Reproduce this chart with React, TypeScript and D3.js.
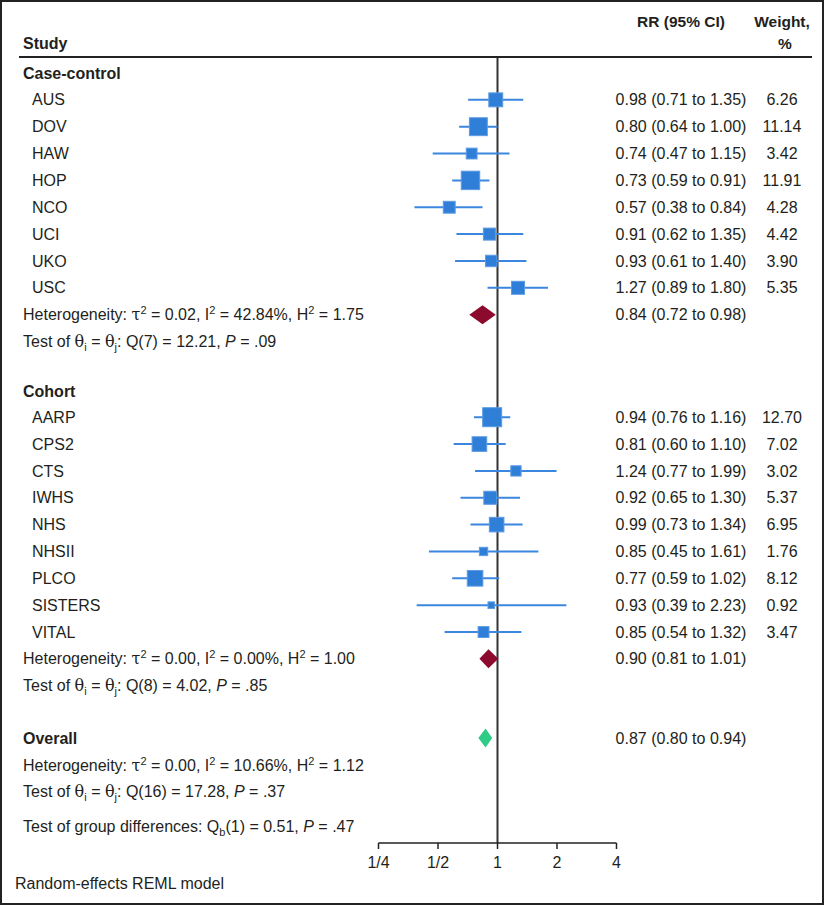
import React from "react";
import * as d3 from "d3";

const caseNames = ["AUS", "DOV", "HAW", "HOP", "NCO", "UCI", "UKO", "USC"];
const caseRR = [0.98, 0.8, 0.74, 0.73, 0.57, 0.91, 0.93, 1.27];
const caseLo = [0.71, 0.64, 0.47, 0.59, 0.38, 0.62, 0.61, 0.89];
const caseHi = [1.35, 1.0, 1.15, 0.91, 0.84, 1.35, 1.4, 1.8];
const caseW = [6.26, 11.14, 3.42, 11.91, 4.28, 4.42, 3.9, 5.35];

const cohortNames = ["AARP", "CPS2", "CTS", "IWHS", "NHS", "NHSII", "PLCO", "SISTERS", "VITAL"];
const cohortRR = [0.94, 0.81, 1.24, 0.92, 0.99, 0.85, 0.77, 0.93, 0.85];
const cohortLo = [0.76, 0.6, 0.77, 0.65, 0.73, 0.45, 0.59, 0.39, 0.54];
const cohortHi = [1.16, 1.1, 1.99, 1.3, 1.34, 1.61, 1.02, 2.23, 1.32];
const cohortW = [12.7, 7.02, 3.02, 5.37, 6.95, 1.76, 8.12, 0.92, 3.47];

// summary: [estimate, low, high]
const caseSummary = [0.84, 0.72, 0.98];
const cohortSummary = [0.9, 0.81, 1.01];
const overallSummary = [0.87, 0.8, 0.94];

const caseHet = ["0.02", "42.84%", "1.75"];
const caseTest = ["7", "12.21", ".09"];
const cohortHet = ["0.00", "0.00%", "1.00"];
const cohortTest = ["8", "4.02", ".85"];
const overallHet = ["0.00", "10.66%", "1.12"];
const overallTest = ["16", "17.28", ".37"];
const groupDiff = ["1", "0.51", ".47"];

const tickValues = [0.25, 0.5, 1, 2, 4];
const tickLabels = ["1/4", "1/2", "1", "2", "4"];

const FONT = "'Liberation Sans', Arial, Helvetica, sans-serif";
const TXT = "#231f20";
const BLUE = "#2f7ed8";
const BLUE_LINE = "#3b86df";
const MAROON = "#8b0a2d";
const GREEN = "#2fcb87";

const fmt = (v: number) => v.toFixed(2);

export default function App() {
  const W = 825;
  const H = 906;
  const x = d3.scaleLog().base(2).domain([0.25, 4]).range([378.5, 616.5]);
  const y = d3.scaleLinear().domain([0, 1]).range([73, 99.85]);
  const sq = d3.scaleSqrt().domain([0, 12.7]).range([2, 19]);

  const caseRows = caseNames.map((n, i) => ({ name: n, rr: caseRR[i], lo: caseLo[i], hi: caseHi[i], w: caseW[i], idx: 1 + i }));
  const cohortRows = cohortNames.map((n, i) => ({ name: n, rr: cohortRR[i], lo: cohortLo[i], hi: cohortHi[i], w: cohortW[i], idx: 12.82 + i }));
  const rows = [...caseRows, ...cohortRows];

  const xCI = 681;
  const xW = 782;
  const xLeft = 23;
  const xName = 32;
  const fs = 16;
  const sub = 11;
  const axisY = 843;

  const het = (vals: string[], idx: number) => (
    <text x={xLeft} y={y(idx)} dy="0.35em" fontSize={fs} fill={TXT}>
      Heterogeneity:{" "}
      <tspan fontFamily="'DejaVu Serif', serif">τ</tspan>
      <tspan dy={-6} fontSize={sub}>2</tspan>
      <tspan dy={6}> = {vals[0]}, I</tspan>
      <tspan dy={-6} fontSize={sub}>2</tspan>
      <tspan dy={6}> = {vals[1]}, H</tspan>
      <tspan dy={-6} fontSize={sub}>2</tspan>
      <tspan dy={6}> = {vals[2]}</tspan>
    </text>
  );
  const test = (vals: string[], idx: number) => (
    <text x={xLeft} y={y(idx)} dy="0.35em" fontSize={fs} fill={TXT}>
      Test of{" "}
      <tspan fontFamily="'DejaVu Serif', serif">θ</tspan>
      <tspan dy={4} fontSize={sub}>i</tspan>
      <tspan dy={-4}> = </tspan>
      <tspan fontFamily="'DejaVu Serif', serif">θ</tspan>
      <tspan dy={4} fontSize={sub}>j</tspan>
      <tspan dy={-4}>: Q({vals[0]}) = {vals[1]}, </tspan>
      <tspan fontStyle="italic">P</tspan>
      <tspan> = {vals[2]}</tspan>
    </text>
  );
  const diamond = (s: number[], idx: number, color: string) => {
    const cy = y(idx);
    const h = 9.5;
    const p = [
      [x(s[1]), cy],
      [x(s[0]), cy - h],
      [x(s[2]), cy],
      [x(s[0]), cy + h],
    ];
    return <path d={d3.line()(p as [number, number][]) + "Z"} fill={color} />;
  };
  const summaryText = (s: number[], idx: number) => (
    <text x={xCI} y={y(idx)} dy="0.35em" fontSize={fs} fill={TXT} textAnchor="middle">
      {`${fmt(s[0])} (${fmt(s[1])} to ${fmt(s[2])})`}
    </text>
  );

  return (
    <svg width={W} height={H} style={{ display: "block", position: "absolute", left: 0, top: 0 }} fontFamily={FONT}>
      <rect x={0} y={0} width={W} height={H} fill="#fff" />
      <rect x={1} y={1} width={822} height={903} fill="none" stroke="#222" strokeWidth={2} />

      {/* header */}
      <text x={xLeft} y={49} fontSize={fs} fontWeight="bold" fill={TXT}>Study</text>
      <text x={xCI} y={27} fontSize={15.5} fontWeight="bold" fill={TXT} textAnchor="middle">RR (95% CI)</text>
      <text x={xW} y={27} fontSize={15.5} fontWeight="bold" fill={TXT} textAnchor="middle">Weight,</text>
      <text x={xW + 3} y={49} fontSize={15.5} fontWeight="bold" fill={TXT} textAnchor="middle">%</text>
      <line x1={19} x2={812} y1={57} y2={57} stroke="#222" strokeWidth={2} />

      {/* reference line */}
      <line x1={x(1)} x2={x(1)} y1={58} y2={axisY} stroke="#333" strokeWidth={2} />

      {/* section headers */}
      <text x={xLeft} y={y(0)} dy="0.35em" fontSize={fs} fontWeight="bold" fill={TXT}>Case-control</text>
      <text x={xLeft} y={y(11.84)} dy="0.35em" fontSize={fs} fontWeight="bold" fill={TXT}>Cohort</text>
      <text x={xLeft} y={y(24.77)} dy="0.35em" fontSize={fs} fontWeight="bold" fill={TXT}>Overall</text>

      {rows.map((r) => {
        const cy = y(r.idx);
        const s = sq(r.w);
        return (
          <g key={r.name}>
            <text x={xName} y={cy} dy="0.35em" fontSize={fs} fill={TXT}>{r.name}</text>
            <line x1={x(r.lo)} x2={x(r.hi)} y1={cy} y2={cy} stroke={BLUE_LINE} strokeWidth={2} />
            <rect x={x(r.rr) - s / 2} y={cy - s / 2} width={s} height={s} fill={BLUE} stroke="#5d9be3" strokeWidth={1} />
            <text x={xCI} y={cy} dy="0.35em" fontSize={fs} fill={TXT} textAnchor="middle">
              {`${fmt(r.rr)} (${fmt(r.lo)} to ${fmt(r.hi)})`}
            </text>
            <text x={xW} y={cy} dy="0.35em" fontSize={fs} fill={TXT} textAnchor="middle">{fmt(r.w)}</text>
          </g>
        );
      })}

      {het(caseHet, 9)}
      {test(caseTest, 10)}
      {diamond(caseSummary, 9, MAROON)}
      {summaryText(caseSummary, 9)}

      {het(cohortHet, 21.82)}
      {test(cohortTest, 22.82)}
      {diamond(cohortSummary, 21.82, MAROON)}
      {summaryText(cohortSummary, 21.82)}

      {diamond(overallSummary, 24.77, GREEN)}
      {summaryText(overallSummary, 24.77)}
      {het(overallHet, 25.77)}
      {test(overallTest, 26.77)}

      <text x={xLeft} y={y(28.05)} dy="0.35em" fontSize={fs} fill={TXT}>
        Test of group differences: Q
        <tspan dy={4} fontSize={sub}>b</tspan>
        <tspan dy={-4}>({groupDiff[0]}) = {groupDiff[1]}, </tspan>
        <tspan fontStyle="italic">P</tspan>
        <tspan> = {groupDiff[2]}</tspan>
      </text>

      {/* axis */}
      <line x1={x(0.25)} x2={x(4)} y1={axisY} y2={axisY} stroke="#222" strokeWidth={1.5} />
      {tickValues.map((t, i) => (
        <g key={t}>
          <line x1={x(t)} x2={x(t)} y1={axisY} y2={axisY + 6} stroke="#222" strokeWidth={1.5} />
          <text x={x(t)} y={axisY + 19} dy="0.35em" fontSize={fs} fill={TXT} textAnchor="middle">{tickLabels[i]}</text>
        </g>
      ))}

      <text x={15} y={883} dy="0.35em" fontSize={fs} fill={TXT}>Random-effects REML model</text>
    </svg>
  );
}
